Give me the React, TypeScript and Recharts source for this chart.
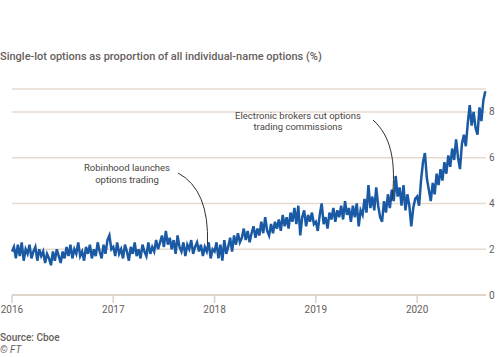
import { LineChart, Line, XAxis, YAxis, CartesianGrid } from 'recharts'

// weekly readings, Jan 2016 – Aug 2020
const y2016 = [
  1.9, 2.1, 1.6, 2.2, 1.7, 2.3, 1.5, 2.0, 1.8, 2.2, 1.6, 1.9, 2.1, 1.5, 2.0, 1.7, 1.9, 1.4, 1.8, 1.6, 1.3, 1.9, 1.5, 2.0, 1.7, 1.4,
  1.9, 1.6, 2.1, 1.7, 2.2, 1.6, 2.0, 1.8, 2.3, 1.7, 1.9, 1.5, 2.1, 1.8, 2.2, 1.6, 2.0, 1.7, 2.3, 1.9, 1.6, 2.2, 1.8, 2.4, 2.6, 2.0,
]
const y2017 = [
  2.1, 1.7, 2.3, 1.8, 2.0, 1.6, 2.2, 1.9, 1.5, 2.1, 1.8, 2.3, 1.7, 2.0, 1.6, 2.2, 1.9, 1.7, 2.3, 1.8, 2.1, 1.9, 2.4, 2.0, 2.3, 2.6,
  2.1, 2.8, 2.2, 2.5, 2.0, 2.4, 1.8, 2.6, 2.1, 1.9, 2.3, 1.7, 2.2, 2.0, 2.4, 1.8, 2.1, 2.3, 1.9, 2.2, 1.7, 2.1, 1.9, 2.3, 1.6, 2.0,
]
const y2018 = [
  1.9, 2.3, 1.6, 2.2, 1.5, 2.4, 1.8, 2.1, 2.5, 1.9, 2.6, 2.2, 2.7, 2.3, 2.5, 2.9, 2.4, 2.8, 2.3, 2.7, 3.0, 2.5, 2.9, 2.6, 3.2, 2.7,
  3.4, 2.8, 2.6, 3.1, 2.7, 3.2, 2.9, 3.3, 2.8, 3.5, 3.0, 3.4, 2.9, 3.6, 3.2, 3.8, 3.1, 3.9, 2.6, 3.4, 3.7, 3.0, 3.5, 3.2, 3.6, 3.1,
]
const y2019 = [
  3.2, 2.8, 3.5, 4.0, 3.1, 3.4, 2.9, 3.6, 3.3, 3.8, 3.2, 3.7, 3.4, 3.9, 3.3, 4.1, 3.5, 3.8, 3.2, 3.9, 3.4, 4.0, 3.0, 3.7, 3.5, 4.2,
  3.6, 4.8, 3.8, 4.3, 3.7, 4.7, 3.9, 3.4, 3.2, 4.1, 3.6, 4.4, 3.8, 4.6, 4.1, 5.2, 4.3, 4.7, 3.9, 4.8, 3.7, 4.4, 3.9, 3.0, 3.8, 4.2,
]
const y2020 = [
  4.3, 3.9, 5.0, 5.8, 6.2, 5.1, 4.6, 4.1, 4.9, 4.4, 5.3, 4.8, 5.5, 5.0, 5.8, 5.3, 6.1, 5.6, 6.4, 5.9, 6.8, 6.0, 5.5, 6.6, 7.0, 6.5,
  7.5, 8.3, 7.4, 8.0, 7.3, 7.0, 8.2, 7.6, 8.5, 8.9,
]
const yearTicks = [2016, 2017, 2018, 2019, 2020]
const valueTicks = [0, 2, 4, 6, 8]

const data = [y2016, y2017, y2018, y2019, y2020].flatMap((arr, yi) =>
  arr.map((v, wi) => ({ t: 2016 + yi + wi / 52, v }))
)

const W = 500
const H = 357
const M = { top: 89, right: 0, bottom: 32, left: 12 }
const Y_W = 14
const X_DOMAIN = [2016, 2020.68]
const Y_DOMAIN = [0, 9]

// same mapping the chart uses, for the annotation overlay
const plotW = W - M.left - M.right - Y_W
const plotH = H - M.top - M.bottom - 30
const px = (t: number) => M.left + ((t - X_DOMAIN[0]) / (X_DOMAIN[1] - X_DOMAIN[0])) * plotW
const py = (v: number) => M.top + ((Y_DOMAIN[1] - v) / (Y_DOMAIN[1] - Y_DOMAIN[0])) * plotH

const grey = '#66605c'
const dark = '#4a4542'
const grid = '#e6dad0'
const font = 'Roboto, "Liberation Sans", sans-serif'

export default function App() {
  return (
    <div style={{ position: 'absolute', left: 0, top: 0, width: W, height: H, background: '#fff', fontFamily: font }}>
      <div style={{ position: 'absolute', left: 0, top: 50, fontSize: 11, fontWeight: 500, color: grey, whiteSpace: 'nowrap' }}>
        Single-lot options as proportion of all individual-name options (%)
      </div>
      <LineChart width={W} height={H} data={data} margin={M}>
        <CartesianGrid vertical={false} stroke={grid} strokeWidth={1.5} />
        <XAxis
          dataKey="t"
          type="number"
          domain={X_DOMAIN}
          ticks={yearTicks}
          tickFormatter={(t) => String(t)}
          height={30}
          stroke={grid}
          axisLine={{ stroke: '#ddd0c5', strokeWidth: 1.5 }}
          tickLine={{ stroke: '#ddd0c5', strokeWidth: 1.5 }}
          tickSize={8}
          tickMargin={3}
          tick={{ fill: grey, fontSize: 10, fontFamily: font }}
        />
        <YAxis
          orientation="right"
          domain={Y_DOMAIN}
          ticks={valueTicks}
          width={Y_W}
          axisLine={false}
          tickLine={false}
          tickSize={0}
          tickMargin={3}
          tick={{ fill: grey, fontSize: 10, fontFamily: font, textAnchor: 'start' }}
        />
        <Line
          dataKey="v"
          type="linear"
          stroke="#1a5aa5"
          strokeWidth={2.5}
          dot={false}
          isAnimationActive={false}
        />
      </LineChart>
      <svg width={W} height={H} style={{ position: 'absolute', left: 0, top: 0, pointerEvents: 'none' }}>
        <g fontFamily={font} fontSize={9.5} fill={dark} textAnchor="middle">
          <text x={127} y={171}>Robinhood launches</text>
          <text x={127} y={183}>options trading</text>
          <text x={298} y={119}>Electronic brokers cut options</text>
          <text x={298} y={130}>trading commissions</text>
        </g>
        <path
          d={`M178,173 Q${px(2017.95)},${py(4.6)} ${px(2017.93)},${py(2.2)}`}
          fill="none"
          stroke="#33302e"
          strokeWidth={1}
        />
        <path
          d={`M373,120 C390,135 397,160 ${px(2019.75)},${py(4.1)}`}
          fill="none"
          stroke="#33302e"
          strokeWidth={1}
        />
      </svg>
      <div style={{ position: 'absolute', left: 0, top: 332, fontSize: 10, fontWeight: 500, color: grey }}>Source: Cboe</div>
      <div style={{ position: 'absolute', left: 0, top: 344, fontSize: 10, fontStyle: 'italic', color: grey }}>© FT</div>
    </div>
  )
}
